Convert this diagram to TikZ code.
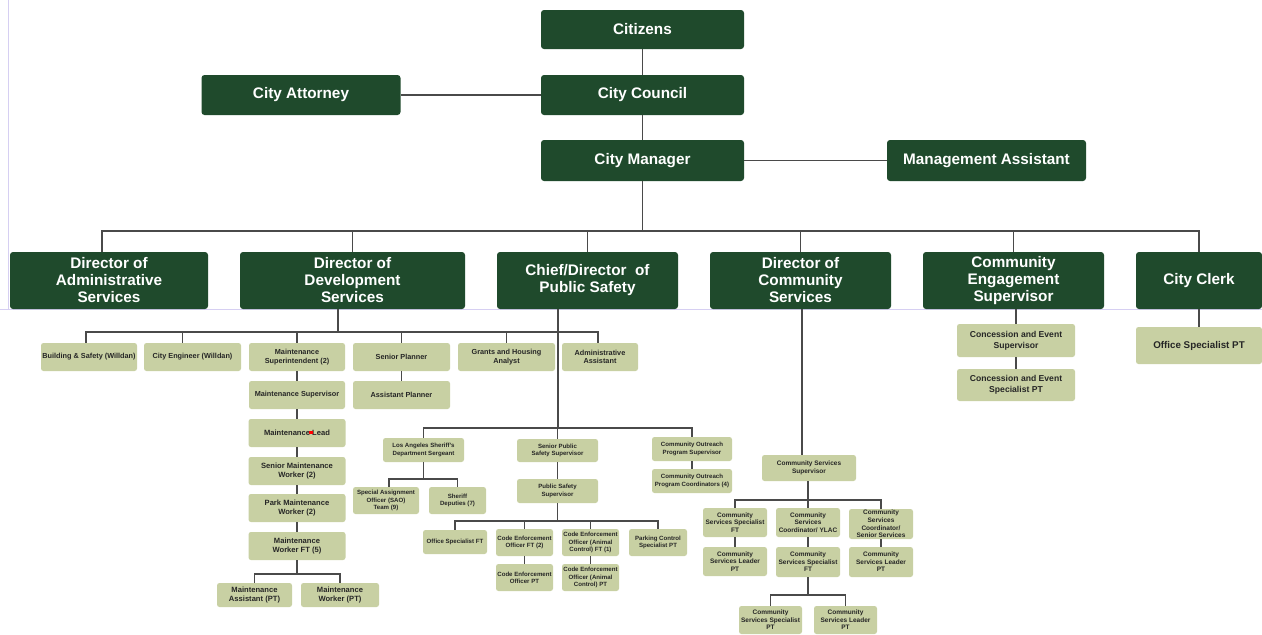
\documentclass[tikz,border=0pt]{standalone}
\usepackage{fontspec}
\setmainfont{Liberation Sans}
\definecolor{dkg}{HTML}{1F4A2C}
\definecolor{ltg}{HTML}{C8D0A3}
\definecolor{lc}{HTML}{4A4A4A}
\definecolor{txt}{HTML}{262626}
\definecolor{lav}{HTML}{D6CFF2}
\tikzset{
  sz/.style 2 args={minimum width=#1pt,minimum height=#2pt},
  dkbox/.style={fill=dkg,rounded corners=3pt,text=white,align=center,inner sep=0pt,
    font=\bfseries\fontsize{15.3}{17}\selectfont},
  ltbox/.style={fill=ltg,rounded corners=2.5pt,text=txt,align=center,inner sep=0pt},
  fA/.style={font=\bfseries\fontsize{7.3}{8.6}\selectfont},
  fB/.style={font=\bfseries\fontsize{7.6}{9.6}\selectfont},
  fC/.style={font=\bfseries\fontsize{6.1}{7.2}\selectfont},
  fD/.style={font=\bfseries\fontsize{6.5}{7.6}\selectfont},
  fE/.style={font=\bfseries\fontsize{8.6}{11}\selectfont},
  fF/.style={font=\bfseries\fontsize{9.8}{12}\selectfont},
  conn/.style={draw=lc,line width=1.5pt},
}
\begin{document}
\begin{tikzpicture}[x=1pt,y=-1pt]
\useasboundingbox (0,0) rectangle (1262,635);
\fill[white] (0,0) rectangle (1262,635);
\draw[lav,line width=0.8pt] (8,0) -- (8,309);
\draw[lav,line width=0.8pt] (0,309.5) -- (1262,309.5);
% top
\node[dkbox,sz={203}{39}] (cit) at (642.5,29.5) {Citizens};
\node[dkbox,sz={203}{40}] (cc) at (642.5,95) {City Council};
\node[dkbox,sz={199}{40}] (ca) at (301,95) {City Attorney};
\node[dkbox,sz={203}{41}] (cman) at (642.5,160.5) {City Manager};
\node[dkbox,sz={199}{41}] (ma) at (986.5,160.5) {Management Assistant};
% directors
\node[dkbox,sz={198}{57}] (da) at (109,280.5) {Director of\\Administrative\\Services};
\node[dkbox,sz={225}{57}] (dd) at (352.5,280.5) {Director of\\Development\\Services};
\node[dkbox,sz={181}{57}] (dp) at (587.5,280.5) {Chief/Director\ \ of\\Public Safety};
\node[dkbox,sz={181}{57}] (dc) at (800.5,280.5) {Director of\\Community\\Services};
\node[dkbox,sz={181}{57}] (de) at (1013.5,280.5) {Community\\Engagement\\Supervisor};
\node[dkbox,sz={126}{57}] (dk) at (1199,280.5) {City Clerk};
% development
\node[ltbox,fA,sz={96}{28}] (bs) at (89,357) {Building \& Safety (Willdan)};
\node[ltbox,fA,sz={97}{28}] (ce) at (192.5,357) {City Engineer (Willdan)};
\node[ltbox,fA,sz={96}{28}] (msup) at (297,357) {Maintenance\\Superintendent (2)};
\node[ltbox,fA,sz={97}{28}] (sp) at (401.5,357) {Senior Planner};
\node[ltbox,fA,sz={97}{28}] (gh) at (506.5,357) {Grants and Housing\\Analyst};
\node[ltbox,fA,sz={76}{28}] (aa) at (600,357) {Administrative\\Assistant};
\node[ltbox,fA,sz={96}{28}] (msv) at (297,395) {Maintenance Supervisor};
\node[ltbox,fA,sz={97}{28}] (ap) at (401.5,395) {Assistant Planner};
\node[ltbox,fB,sz={97}{28}] (ml) at (297,433) {Maintenance Lead};
\node[ltbox,fB,sz={97}{28}] (smw) at (297,471) {Senior Maintenance\\Worker (2)};
\node[ltbox,fB,sz={97}{28}] (pmw) at (297,508) {Park Maintenance\\Worker (2)};
\node[ltbox,fB,sz={97}{28}] (mwft) at (297,546) {Maintenance\\Worker FT (5)};
\node[ltbox,fB,sz={75}{24}] (mapt) at (254.5,595) {Maintenance\\Assistant (PT)};
\node[ltbox,fB,sz={78}{24}] (mwpt) at (340,595) {Maintenance\\Worker (PT)};
\fill[red] (309,430.5) rectangle (312.5,434);
% public safety
\node[ltbox,fC,sz={81}{24}] (sgt) at (423.5,450) {Los Angeles Sheriff's\\Department Sergeant};
\node[ltbox,fC,sz={81}{23}] (spss) at (557.5,450.5) {Senior Public\\Safety Supervisor};
\node[ltbox,fC,sz={80}{24}] (cops) at (692,449) {Community Outreach\\Program Supervisor};
\node[ltbox,fC,sz={80}{24}] (copc) at (692,481) {Community Outreach\\Program Coordinators (4)};
\node[ltbox,fC,sz={81}{24}] (pss) at (557.5,491) {Public Safety\\Supervisor};
\node[ltbox,fC,sz={66}{27}] (sao) at (386,500.5) {Special Assignment\\Officer (SAO)\\Team (9)};
\node[ltbox,fC,sz={57}{27}] (sd) at (457.5,500.5) {Sheriff\\Deputies (7)};
\node[ltbox,fC,sz={64}{24}] (osft) at (455,542) {Office Specialist FT};
\node[ltbox,fC,sz={57}{27}] (ceft) at (524.5,542.5) {Code Enforcement\\Officer FT (2)};
\node[ltbox,fC,sz={57}{27}] (ceac) at (590.5,542.5) {Code Enforcement\\Officer (Animal\\Control) FT (1)};
\node[ltbox,fC,sz={58}{27}] (pcs) at (658,542.5) {Parking Control\\Specialist PT};
\node[ltbox,fC,sz={57}{27}] (cept) at (524.5,577.5) {Code Enforcement\\Officer PT};
\node[ltbox,fC,sz={57}{27}] (ceacpt) at (590.5,577.5) {Code Enforcement\\Officer (Animal\\Control) PT};
% community services
\node[ltbox,fD,sz={94}{26}] (css) at (809,468) {Community Services\\Supervisor};
\node[ltbox,fD,sz={64}{29}] (cssft) at (735,522.5) {Community\\Services Specialist\\FT};
\node[ltbox,fD,sz={64}{29}] (csc) at (808,522.5) {Community\\Services\\Coordinator/ YLAC};
\node[ltbox,fD,sz={64}{30}] (cscs) at (881,524) {Community\\Services\\Coordinator/\\Senior Services};
\node[ltbox,fD,sz={64}{29}] (cslpt1) at (735,561.5) {Community\\Services Leader\\PT};
\node[ltbox,fD,sz={64}{30}] (cssft2) at (808,562) {Community\\Services Specialist\\FT};
\node[ltbox,fD,sz={64}{30}] (cslpt2) at (881,562) {Community\\Services Leader\\PT};
\node[ltbox,fD,sz={63}{28}] (csspt) at (770.5,620) {Community\\Services Specialist\\PT};
\node[ltbox,fD,sz={63}{28}] (cslpt3) at (845.5,620) {Community\\Services Leader\\PT};
% engagement, clerk
\node[ltbox,fE,sz={118}{33}] (ces) at (1016,340.5) {Concession and Event\\Supervisor};
\node[ltbox,fE,sz={118}{32}] (cesp) at (1016,385) {Concession and Event\\Specialist PT};
\node[ltbox,fF,sz={126}{37}] (osp) at (1199,345.5) {Office Specialist PT};
% connectors
\draw[conn] (cit) -- (cc);
\draw[conn] (cc) -- (cman);
\draw[conn] (ca) -- (cc);
\draw[conn] (cman) -- (ma);
\coordinate (b0) at (642.5,231);
\draw[conn] (cman) -- (b0);
\draw[conn] (b0) -| ([xshift=-7pt]da.north);
\draw[conn] (b0) -| (dd.north);
\draw[conn] (b0) -| (dp.north);
\draw[conn] (b0) -| (dc.north);
\draw[conn] (b0) -| (de.north);
\draw[conn] (b0) -| (dk.north);
\coordinate (b1) at (338,332);
\draw[conn] (dd.south -| b1) -- (b1);
\draw[conn] (b1) -| ([xshift=-3pt]bs.north);
\draw[conn] (b1) -| ([xshift=-10pt]ce.north);
\draw[conn] (b1) -| (msup.north);
\draw[conn] (b1) -| (sp.north);
\draw[conn] (b1) -| (gh.north);
\draw[conn] (b1) -| ([xshift=-2pt]aa.north);
\draw[conn] (msup) -- (msv);
\draw[conn] (msv) -- (ml);
\draw[conn] (ml) -- (smw);
\draw[conn] (smw) -- (pmw);
\draw[conn] (pmw) -- (mwft);
\draw[conn] (sp) -- (ap);
\coordinate (b2) at (297,574);
\draw[conn] (mwft) -- (b2);
\draw[conn] (b2) -| (mapt.north);
\draw[conn] (b2) -| (mwpt.north);
\coordinate (b3) at (558,428);
\draw[conn] (dp.south -| b3) -- (b3);
\draw[conn] (b3) -| (sgt.north);
\draw[conn] (b3) -| (spss.north);
\draw[conn] (b3) -| (cops.north);
\draw[conn] (cops) -- (copc);
\draw[conn] (spss) -- (pss);
\coordinate (b4) at (423.5,479);
\draw[conn] (sgt) -- (b4);
\draw[conn] (b4) -| ([xshift=3pt]sao.north);
\draw[conn] (b4) -| (sd.north);
\coordinate (b5) at (557.5,521);
\draw[conn] (pss) -- (b5);
\draw[conn] (b5) -| (osft.north);
\draw[conn] (b5) -| (ceft.north);
\draw[conn] (b5) -| (ceac.north);
\draw[conn] (b5) -| (pcs.north);
\draw[conn] (ceft) -- (cept);
\draw[conn] (ceac) -- (ceacpt);
\coordinate (c1) at ([xshift=-7pt]css.north);
\draw[conn] (c1 |- dc.south) -- (c1);
\coordinate (b6) at (808,500);
\draw[conn] (css.south -| b6) -- (b6);
\draw[conn] (b6) -| (cssft.north);
\draw[conn] (b6) -| (csc.north);
\draw[conn] (b6) -| (cscs.north);
\draw[conn] (cssft) -- (cslpt1);
\draw[conn] (csc) -- (cssft2);
\draw[conn] (cscs) -- (cslpt2);
\coordinate (b7) at (808,595);
\draw[conn] (cssft2) -- (b7);
\draw[conn] (b7) -| (csspt.north);
\draw[conn] (b7) -| (cslpt3.north);
\draw[conn] (ces.north |- de.south) -- (ces.north);
\draw[conn] (ces) -- (cesp);
\draw[conn] (dk.south) -- (osp.north);
\end{tikzpicture}
\end{document}
